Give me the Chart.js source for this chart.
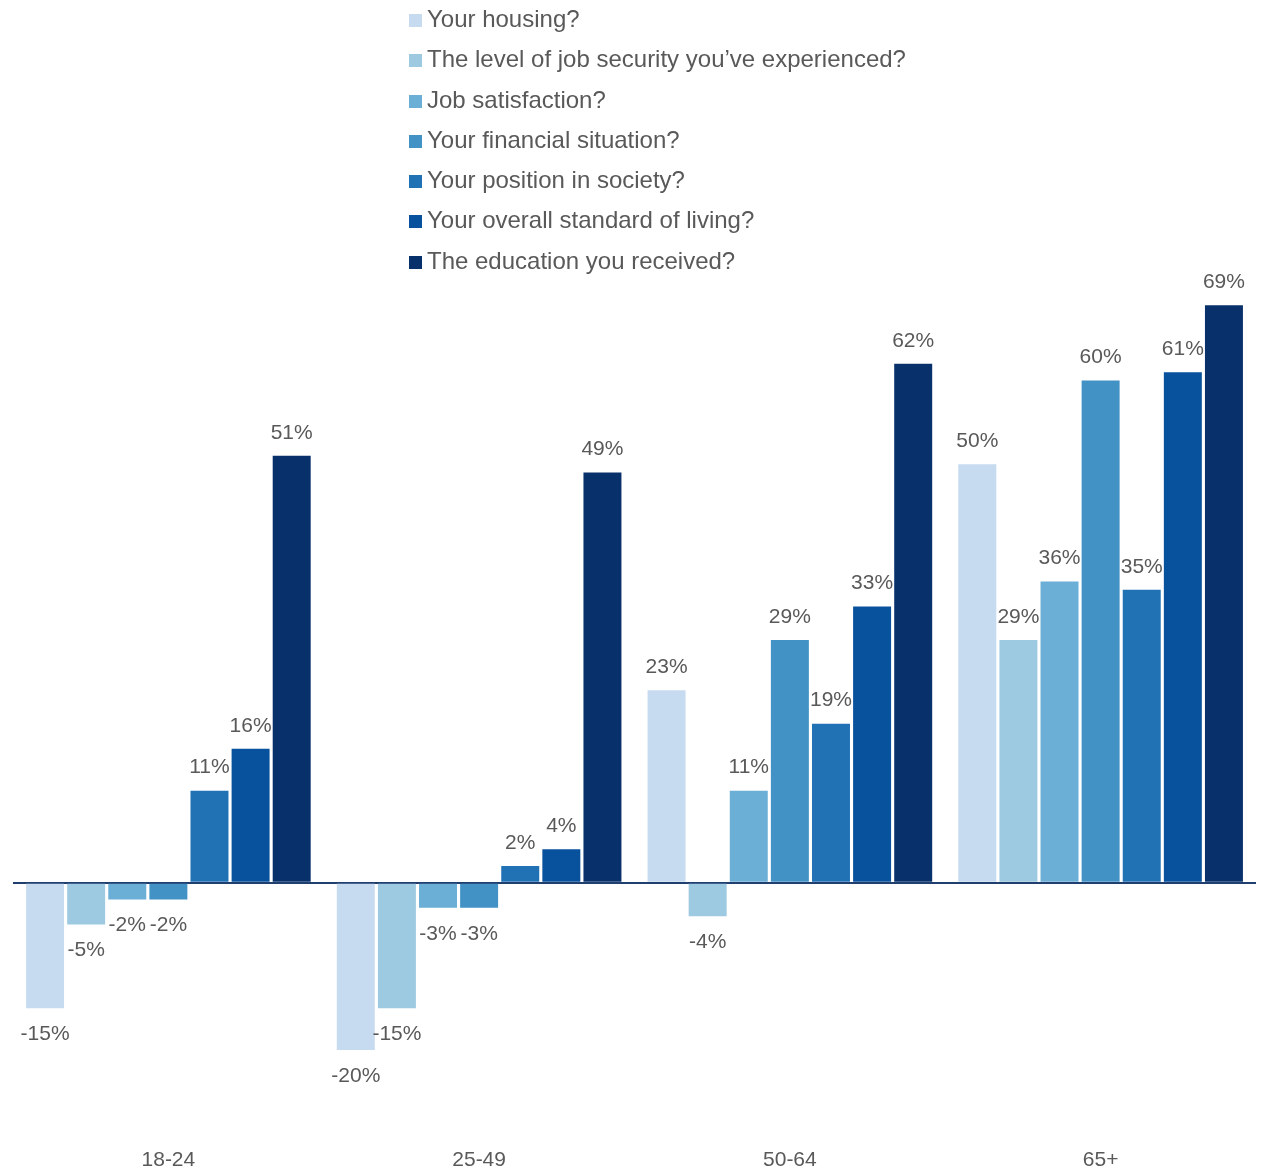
<!DOCTYPE html>
<html>
<head>
<meta charset="utf-8">
<script src="https://cdn.jsdelivr.net/npm/chart.js@4.4.1/dist/chart.umd.min.js"></script>
<style>
  html, body { margin: 0; padding: 0; background: #fff; }
  #wrap { position: relative; width: 1265px; height: 1171px; }
  #legend { position: absolute; left: 409px; top: 0; font-family: "Liberation Sans", Arial, sans-serif; font-size: 24px; color: #595959; }
  #legend div { height: 40.3px; line-height: 38px; white-space: nowrap; }
  #legend span.box { display: inline-block; width: 13px; height: 13px; margin-right: 5px; vertical-align: 0px; }
</style>
</head>
<body>
<div id="wrap">
  <canvas id="chart" width="1265" height="1171"></canvas>
  <div id="legend"></div>
</div>
<script>
// Age groups
const groups = ['18-24', '25-49', '50-64', '65+'];

// Series (net % per age group)
const seriesNames = [
  'Your housing?',
  'The level of job security you\u2019ve experienced?',
  'Job satisfaction?',
  'Your financial situation?',
  'Your position in society?',
  'Your overall standard of living?',
  'The education you received?'
];
const housing   = [-15, -20, 23, 50];
const jobSec    = [-5, -15, -4, 29];
const jobSat    = [-2, -3, 11, 36];
const financial = [-2, -3, 29, 60];
const position  = [11, 2, 19, 35];
const living    = [16, 4, 33, 61];
const education = [51, 49, 62, 69];

const colors = ['#c6dbef', '#9ecae1', '#6baed6', '#4292c6', '#2171b5', '#08519c', '#08306b'];
const values = [housing, jobSec, jobSat, financial, position, living, education];

const labelFont = '21px "Liberation Sans", Arial, sans-serif';

// draw value labels above / below bars
const barLabels = {
  id: 'barLabels',
  afterDatasetsDraw(chart) {
    const ctx = chart.ctx;
    ctx.save();
    ctx.font = labelFont;
    ctx.fillStyle = '#595959';
    ctx.textAlign = 'center';
    ctx.textBaseline = 'middle';
    chart.data.datasets.forEach((ds, i) => {
      chart.getDatasetMeta(i).data.forEach((bar, j) => {
        const v = ds.data[j];
        const y = v >= 0 ? bar.y - 23 : bar.y + 26;
        ctx.fillText(v + '%', bar.x, y);
      });
    });
    ctx.restore();
  }
};

const chart = new Chart(document.getElementById('chart').getContext('2d'), {
  type: 'bar',
  data: {
    labels: groups,
    datasets: values.map((v, i) => ({
      label: seriesNames[i],
      data: v,
      backgroundColor: colors[i],
      borderWidth: 0,
      categoryPercentage: 0.926,
      barPercentage: 0.924
    }))
  },
  options: {
    responsive: false,
    animation: false,
    layout: { padding: { top: 255, left: 13, right: 9, bottom: -16 } },
    plugins: { legend: { display: false }, tooltip: { enabled: false } },
    scales: {
      x: {
        grid: { display: false, drawTicks: false },
        border: { display: false },
        ticks: { color: '#595959', font: { family: '"Liberation Sans", Arial, sans-serif', size: 21 }, padding: 14 }
      },
      y: {
        min: -30,
        max: 75,
        ticks: { display: false, stepSize: 15 },
        border: { display: false },
        grid: {
          drawTicks: false,
          lineWidth: 2,
          color: c => c.tick && c.tick.value === 0 ? '#203e6e' : 'rgba(0,0,0,0)'
        }
      }
    }
  },
  plugins: [barLabels]
});

// vertical legend
const legend = document.getElementById('legend');
chart.data.datasets.forEach(ds => {
  const row = document.createElement('div');
  const box = document.createElement('span');
  box.className = 'box';
  box.style.background = ds.backgroundColor;
  row.appendChild(box);
  row.appendChild(document.createTextNode(ds.label));
  legend.appendChild(row);
});
</script>
</body>
</html>
